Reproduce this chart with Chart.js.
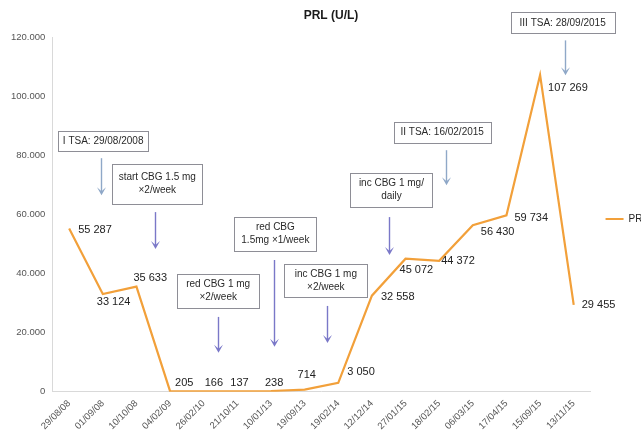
<!DOCTYPE html>
<html>
<head>
<meta charset="utf-8">
<script src="https://cdn.jsdelivr.net/npm/chart.js@4/dist/chart.umd.min.js"></script>
<style>
  html, body { margin: 0; padding: 0; background: #fff; overflow: hidden; width: 641px; height: 438px; }
  canvas { display: block; }
</style>
</head>
<body>
<canvas id="c" width="658" height="438"></canvas>
<script>
// ---- data ----
const categories = ['29/08/08','01/09/08','10/10/08','04/02/09','26/02/10','21/10/11','10/01/13','19/09/13','19/02/14','12/12/14','27/01/15','18/02/15','06/03/15','17/04/15','15/09/15','13/11/15'];
const prlValues = [55287, 33124, 35633, 205, 166, 137, 238, 714, 3050, 32558, 45072, 44372, 56430, 59734, 107269, 29455];
const seriesName = 'PRL';
const chartTitle = 'PRL (U/L)';
const yTicks = [0, 20000, 40000, 60000, 80000, 100000, 120000];
const annotationTexts = [
  ['I TSA: 29/08/2008'],
  ['start CBG 1.5 mg', '×2/week'],
  ['red CBG 1 mg', '×2/week'],
  ['red CBG', '1.5mg ×1/week'],
  ['inc CBG 1 mg', '×2/week'],
  ['inc CBG 1 mg/', 'daily'],
  ['II TSA: 16/02/2015'],
  ['III TSA: 28/09/2015']
];

// ---- placement / style (not data) ----
const annotationLayout = [
  {cx: 1.01, w: 90, top: 88226, bottom: 81465, ax: 0.95, a1: 79100, a2: 66592, kind: 'tsa'},
  {cx: 2.62, w: 90, top: 77070, bottom: 63550, ax: 2.56, a1: 60845, a2: 48338, kind: 'cbg'},
  {cx: 4.43, w: 82, top: 39888, bottom: 28395, ax: 4.43, a1: 25353, a2: 13183, kind: 'cbg'},
  {cx: 6.13, w: 82, top: 59155, bottom: 47662, ax: 6.10, a1: 44620, a2: 15211, kind: 'cbg'},
  {cx: 7.63, w: 83, top: 43268, bottom: 32113, ax: 7.68, a1: 29070, a2: 16563, kind: 'cbg'},
  {cx: 9.58, w: 82, top: 74029, bottom: 62535, ax: 9.52, a1: 59155, a2: 46310, kind: 'cbg'},
  {cx: 11.09, w: 97, top: 91268, bottom: 84170, ax: 11.19, a1: 81803, a2: 69972, kind: 'tsa'},
  {cx: 14.67, w: 104, top: 128451, bottom: 121353, ax: 14.73, a1: 118987, a2: 107156, kind: 'tsa'}
];
const labelOffsets = [[9,1],[-6,8],[-3,-9],[5,-8],[1,-8],[-7,-8],[-6,-8],[-7,-15],[9,-11],[9,1],[-6,11],[2,0],[8,7],[8,3],[8,13],[8,0]];
const arrowColors = {tsa: '#8FA8C8', cbg: '#7A78C8'};
const FONT = "'Liberation Sans', Arial, sans-serif";

function fmtSpace(v) { return String(v).replace(/\B(?=(\d{3})+(?!\d))/g, ' '); }
function fmtDot(v) { return String(v).replace(/\B(?=(\d{3})+(?!\d))/g, '.'); }

const overlayPlugin = {
  id: 'overlay',
  afterDatasetsDraw(chart) {
    const ctx = chart.ctx;
    const xs = chart.scales.x, ys = chart.scales.y;
    const meta = chart.getDatasetMeta(0);
    ctx.save();
    ctx.font = '11px ' + FONT;
    ctx.fillStyle = '#222';
    ctx.textAlign = 'left';
    ctx.textBaseline = 'middle';
    meta.data.forEach((pt, i) => {
      const o = labelOffsets[i];
      ctx.fillText(fmtSpace(prlValues[i]), pt.x + o[0], pt.y + o[1]);
    });
    annotationLayout.forEach((a, i) => {
      const cx = xs.getPixelForValue(a.cx);
      const top = ys.getPixelForValue(a.top);
      const bottom = ys.getPixelForValue(a.bottom);
      const left = Math.round(cx - a.w / 2) + 0.5;
      ctx.fillStyle = '#fff';
      ctx.fillRect(left, Math.round(top) + 0.5, a.w, Math.round(bottom - top));
      ctx.strokeStyle = '#8E8E96';
      ctx.lineWidth = 1;
      ctx.strokeRect(left, Math.round(top) + 0.5, a.w, Math.round(bottom - top));
      const lines = annotationTexts[i];
      ctx.fillStyle = '#2a2a2a';
      ctx.font = '10px ' + FONT;
      ctx.textAlign = 'center';
      ctx.textBaseline = 'middle';
      const lh = 13;
      const midY = (top + bottom) / 2;
      lines.forEach((t, k) => {
        ctx.fillText(t, cx, midY + (k - (lines.length - 1) / 2) * lh);
      });
      const ax = Math.round(xs.getPixelForValue(a.ax)) + 0.5;
      const y1 = ys.getPixelForValue(a.a1);
      const y2 = ys.getPixelForValue(a.a2);
      const col = arrowColors[a.kind];
      ctx.strokeStyle = col;
      ctx.fillStyle = col;
      ctx.lineWidth = 1.4;
      ctx.beginPath();
      ctx.moveTo(ax, y1);
      ctx.lineTo(ax, y2 - 3);
      ctx.stroke();
      ctx.beginPath();
      ctx.moveTo(ax - 4.5, y2 - 8);
      ctx.lineTo(ax, y2 - 4);
      ctx.lineTo(ax + 4.5, y2 - 8);
      ctx.lineTo(ax, y2);
      ctx.closePath();
      ctx.fill();
    });
    ctx.restore();
  }
};

new Chart(document.getElementById('c'), {
  type: 'line',
  data: {
    labels: categories,
    datasets: [{
      label: seriesName,
      data: prlValues,
      borderColor: '#F2A03A',
      backgroundColor: '#F2A03A',
      borderWidth: 2.2,
      pointRadius: 0,
      tension: 0,
      fill: false
    }]
  },
  options: {
    responsive: false,
    animation: false,
    devicePixelRatio: 1,
    layout: { padding: { left: 4, top: 0, right: 0, bottom: 0 } },
    plugins: {
      title: {
        display: true,
        text: chartTitle,
        color: '#1a1a1a',
        font: { family: FONT, size: 12, weight: 'bold' },
        padding: { top: 8, bottom: 15 }
      },
      legend: {
        position: 'right',
        labels: {
          boxWidth: 18,
          boxHeight: 2,
          padding: 15,
          color: '#222',
          font: { family: FONT, size: 10 },
          generateLabels(chart) {
            const items = Chart.defaults.plugins.legend.labels.generateLabels(chart);
            items.forEach(it => { it.lineWidth = 0; it.strokeStyle = 'rgba(0,0,0,0)'; });
            return items;
          }
        }
      },
      tooltip: { enabled: false }
    },
    scales: {
      x: {
        offset: true,
        grid: { color: 'rgba(0,0,0,0)', drawTicks: false },
        border: { display: true, color: '#D9D9D9', width: 1 },
        ticks: {
          autoSkip: false,
          maxRotation: 45,
          minRotation: 45,
          padding: 6,
          color: '#555',
          font: { family: FONT, size: 9.5 }
        }
      },
      y: {
        min: 0,
        max: 120000,
        afterBuildTicks(scale) { scale.ticks = yTicks.map(v => ({ value: v })); },
        grid: { color: 'rgba(0,0,0,0)', drawTicks: false },
        border: { display: true, color: '#D9D9D9', width: 1 },
        ticks: {
          padding: 7,
          color: '#555',
          font: { family: FONT, size: 9.5 },
          callback: (v) => fmtDot(v)
        }
      }
    }
  },
  plugins: [overlayPlugin]
});
</script>
</body>
</html>
